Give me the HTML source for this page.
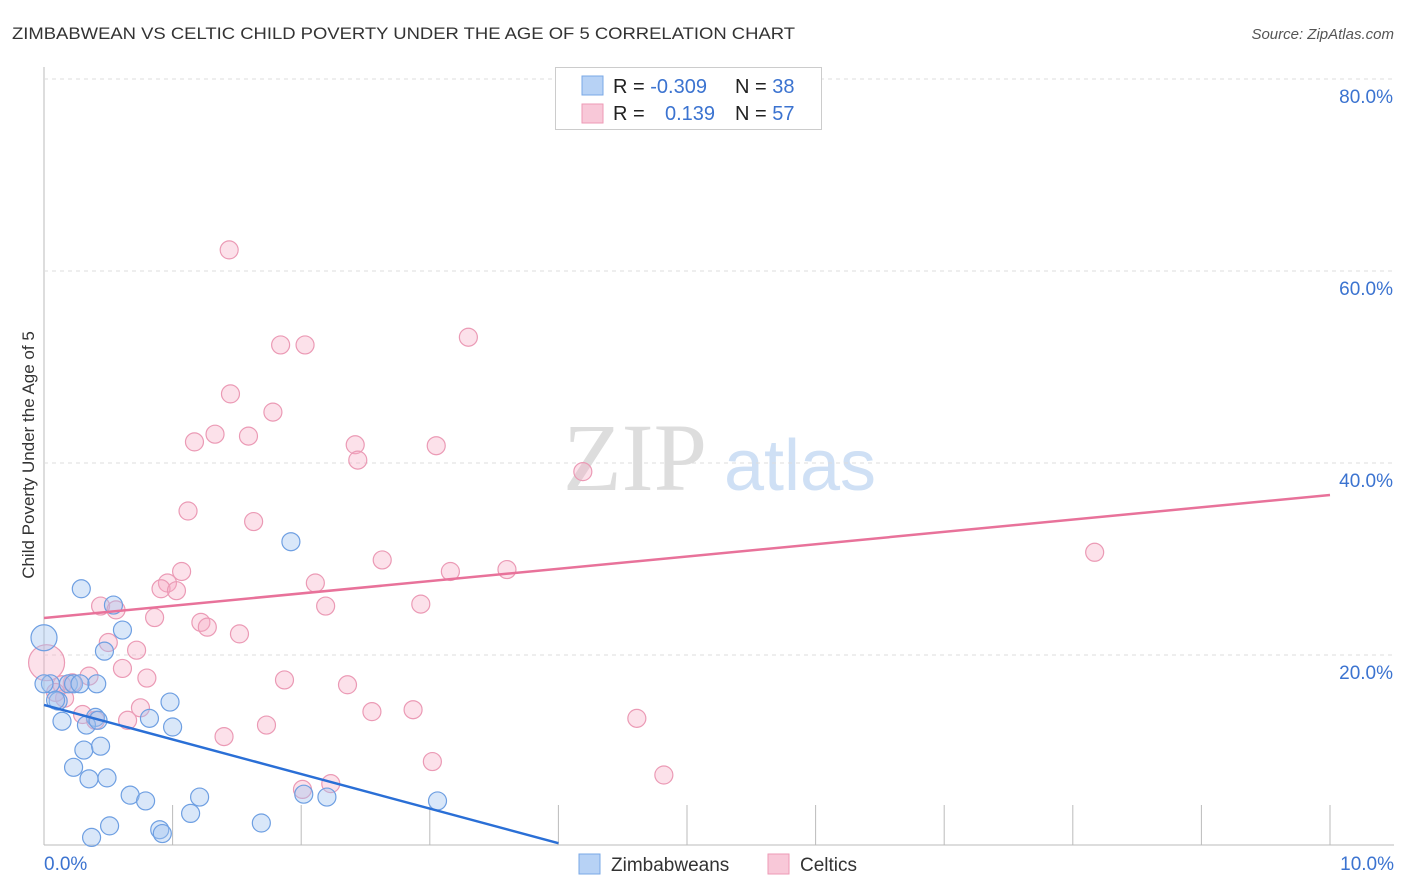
<!DOCTYPE html>
<html><head><meta charset="utf-8"><style>
body{margin:0;background:#fff;font-family:"Liberation Sans",sans-serif;}
svg{display:block}
</style></head><body>
<svg id="chart" width="1406" height="892" font-family="Liberation Sans, sans-serif">
<text x="12" y="39" font-size="17" fill="#333" textLength="783" lengthAdjust="spacingAndGlyphs">ZIMBABWEAN VS CELTIC CHILD POVERTY UNDER THE AGE OF 5 CORRELATION CHART</text>
<text x="1394" y="39" font-size="15" fill="#555" font-style="italic" text-anchor="end">Source: ZipAtlas.com</text>
<text x="34" y="455" font-size="17" fill="#333" text-anchor="middle" transform="rotate(-90 34 455)">Child Poverty Under the Age of 5</text>
<g><text x="635" y="490" font-size="96" fill="#ddd" font-family="Liberation Serif, serif" text-anchor="middle">ZIP</text><text x="800" y="490" font-size="72" fill="#cfe0f5" text-anchor="middle">atlas</text></g>
<g id="grid"></g><g id="pts"></g><g id="lines"></g>
<g>
<rect x="555.5" y="67.5" width="266" height="62" fill="#fff" stroke="#ccc"/>
<rect x="582" y="76" width="21" height="19" fill="#b7d2f5" stroke="#7aa8e6"/>
<rect x="582" y="104" width="21" height="19" fill="#f8c8d8" stroke="#ee9ab6"/>
<text x="613" y="93" font-size="20" fill="#222">R = <tspan fill="#3b73d0">-0.309</tspan><tspan x="735">N = </tspan><tspan fill="#3b73d0">38</tspan></text>
<text x="613" y="120" font-size="20" fill="#222">R = <tspan x="665" fill="#3b73d0">0.139</tspan><tspan x="735">N = </tspan><tspan fill="#3b73d0">57</tspan></text>
</g>
<g>
<rect x="579" y="854" width="21" height="20" fill="#b7d2f5" stroke="#7aa8e6"/>
<text x="611" y="871" font-size="19" fill="#333">Zimbabweans</text>
<rect x="768" y="854" width="21" height="20" fill="#f8c8d8" stroke="#ee9ab6"/>
<text x="800" y="871" font-size="19" fill="#333">Celtics</text>
</g>
</svg>
<script>
const yTicks=[20,40,60,80];
const yTickLabels=["20.0%","40.0%","60.0%","80.0%"];
const xTickVals=[0,1,2,3,4,5,6,7,8,9,10];
const xEndLabels=["0.0%","10.0%"];
const zimX=[0.29,0.54,0.61,0.47,0.0,0.05,0.19,0.23,0.41,0.11,0.98,0.14,0.40,0.82,0.33,1.00,0.31,0.44,0.23,0.35,0.49,0.67,0.79,1.21,1.14,0.51,0.37,0.90,0.92,1.69,1.92,2.02,2.20,3.06,0.09,0.0,0.28,0.42];
const zimY=[26.9,25.2,22.6,20.4,21.8,17.0,17.0,17.0,17.0,15.2,15.1,13.1,13.5,13.4,12.7,12.5,10.1,10.5,8.3,7.1,7.2,5.4,4.8,5.2,3.5,2.2,1.0,1.8,1.4,2.5,31.8,5.5,5.2,4.8,15.3,17.0,17.0,13.2];
const celX=[1.44,1.84,2.03,3.30,1.45,1.78,1.33,1.17,1.59,2.42,3.05,2.44,4.19,1.12,1.63,8.17,2.63,3.16,3.60,1.07,0.96,0.91,1.03,2.11,0.44,2.19,2.93,0.56,0.86,1.22,1.27,1.52,0.50,0.72,0.02,0.35,0.61,0.80,1.87,2.36,0.22,0.16,2.55,2.87,0.75,0.30,0.65,0.40,1.73,4.61,1.40,3.02,4.82,2.01,2.23,0.14,0.09];
const celY=[62.2,52.3,52.3,53.1,47.2,45.3,43.0,42.2,42.8,41.9,41.8,40.3,39.1,35.0,33.9,30.7,29.9,28.7,28.9,28.7,27.5,26.9,26.7,27.5,25.1,25.1,25.3,24.7,23.9,23.4,22.9,22.2,21.3,20.5,19.2,17.8,18.6,17.6,17.4,16.9,17.1,15.5,14.1,14.3,14.5,13.8,13.2,13.2,12.7,13.4,11.5,8.9,7.5,6.0,6.6,16.9,16.1];
const zimTrend=[14.8,0.4]; const zimTrendX=[0,4.0];
const celTrend=[23.85,36.67]; const celTrendX=[0,10];
const sx=v=>44+v*128.6, sy=v=>847-v*9.6;
const NS="http://www.w3.org/2000/svg";
function mk(t,a,p){const e=document.createElementNS(NS,t);for(const k in a)e.setAttribute(k,a[k]);p.appendChild(e);return e;}
const grid=document.getElementById('grid');
mk('line',{x1:44,y1:67,x2:44,y2:845,stroke:'#bbb'},grid);
mk('line',{x1:44,y1:845,x2:1394,y2:845,stroke:'#bbb'},grid);
yTicks.forEach((v,i)=>{
 const l=mk('line',{x1:44,x2:1394,y1:sy(v),y2:sy(v),stroke:'#ddd','stroke-dasharray':'4 4'},grid);
 
 
 const t=mk('text',{x:1393,y:sy(v)+24,'font-size':19,fill:'#3b73d0','text-anchor':'end'},grid);
 t.textContent=yTickLabels[i];
 
 
});
xTickVals.forEach(v=>{
 const l=mk('line',{x1:sx(v),x2:sx(v),y1:805,y2:845,stroke:'#bbb'},grid);
 
 
});
[[0,'start',44],[10,'end',1394]].forEach((d,i)=>{
 const t=mk('text',{x:d[2],y:870,'font-size':19,fill:'#3b73d0','text-anchor':d[1]},grid);
 t.textContent=xEndLabels[i];
 
 
});
const pts=document.getElementById('pts');
celX.forEach((x,i)=>{
 const r=(i===34)?18:9;
 const c=mk('circle',{cx:sx(x),cy:sy(celY[i]),r:r,fill:'rgba(245,170,195,0.35)',stroke:'#eb9ab5','stroke-width':1.2},pts);
 
 
});
zimX.forEach((x,i)=>{
 const r=(i===4)?13:9;
 const c=mk('circle',{cx:sx(x),cy:sy(zimY[i]),r:r,fill:'rgba(160,196,240,0.4)',stroke:'#6e9fe2','stroke-width':1.2},pts);
 
 
});
const lines=document.getElementById('lines');
const l1=mk('line',{x1:sx(celTrendX[0]),y1:sy(celTrend[0]),x2:sx(celTrendX[1]),y2:sy(celTrend[1]),stroke:'#e8729a','stroke-width':2.5},lines);


const l2=mk('line',{x1:sx(zimTrendX[0]),y1:sy(zimTrend[0]),x2:sx(zimTrendX[1]),y2:sy(zimTrend[1]),stroke:'#2a6fd6','stroke-width':2.5},lines);


</script>
</body></html>
